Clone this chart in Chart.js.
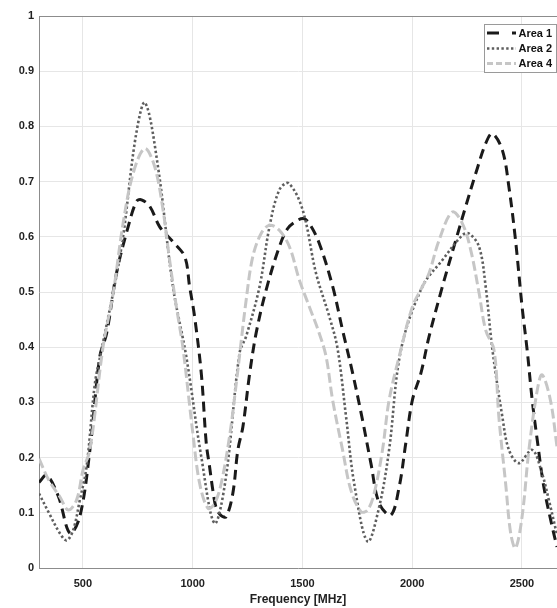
<!DOCTYPE html>
<html>
<head>
<meta charset="utf-8">
<script src="https://cdn.jsdelivr.net/npm/chart.js@4"></script>
<style>
  html, body { margin: 0; padding: 0; background: #fff; overflow: hidden; }
  #wrap { width: 557px; height: 608px; }
</style>
</head>
<body>
<div id="wrap"><canvas id="chart" width="557" height="608"></canvas></div>
<script>
// values
const area1Freq = [300, 335, 388, 441, 486, 532, 577, 608, 653, 706, 744, 767, 805, 850, 910, 964, 986, 1009, 1040, 1062, 1077, 1092, 1108, 1130, 1153, 1183, 1206, 1229, 1259, 1289, 1335, 1395, 1433, 1470, 1505, 1532, 1577, 1638, 1683, 1729, 1774, 1812, 1850, 1903, 1941, 1971, 2001, 2040, 2077, 2138, 2199, 2244, 2290, 2335, 2365, 2411, 2441, 2471, 2501, 2524, 2547, 2570, 2600, 2638, 2660]
const area1Val  = [0.155, 0.168, 0.13, 0.063, 0.093, 0.214, 0.383, 0.425, 0.534, 0.618, 0.664, 0.667, 0.655, 0.618, 0.591, 0.564, 0.51, 0.455, 0.35, 0.226, 0.184, 0.141, 0.108, 0.095, 0.093, 0.135, 0.214, 0.256, 0.35, 0.425, 0.504, 0.582, 0.615, 0.628, 0.633, 0.624, 0.588, 0.51, 0.431, 0.353, 0.268, 0.19, 0.117, 0.096, 0.147, 0.226, 0.304, 0.353, 0.419, 0.51, 0.594, 0.655, 0.715, 0.769, 0.787, 0.757, 0.69, 0.594, 0.473, 0.395, 0.304, 0.232, 0.147, 0.075, 0.038]

const area2Freq = [300, 345, 395, 426, 456, 486, 517, 555, 585, 676, 740, 783, 842, 910, 971, 1040, 1100, 1150, 1214, 1244, 1305, 1350, 1395, 1437, 1501, 1562, 1623, 1660, 1699, 1736, 1797, 1850, 1895, 1949, 2047, 2138, 2229, 2259, 2305, 2335, 2365, 2411, 2441, 2486, 2547, 2592, 2623, 2660]
const area2Val  = [0.135, 0.1, 0.063, 0.05, 0.069, 0.123, 0.184, 0.335, 0.395, 0.582, 0.78, 0.843, 0.727, 0.51, 0.383, 0.2, 0.081, 0.16, 0.39, 0.42, 0.51, 0.618, 0.685, 0.697, 0.649, 0.534, 0.455, 0.398, 0.274, 0.153, 0.048, 0.111, 0.214, 0.395, 0.51, 0.558, 0.603, 0.606, 0.582, 0.51, 0.398, 0.274, 0.214, 0.19, 0.214, 0.171, 0.123, 0.06]

const area4Freq = [300, 345, 395, 433, 471, 501, 532, 592, 638, 683, 729, 782, 827, 865, 895, 926, 956, 1001, 1032, 1070, 1100, 1130, 1168, 1199, 1244, 1274, 1312, 1350, 1395, 1441, 1486, 1532, 1577, 1608, 1638, 1683, 1721, 1767, 1797, 1827, 1865, 1895, 1941, 2001, 2047, 2077, 2123, 2183, 2229, 2267, 2305, 2335, 2373, 2395, 2426, 2449, 2471, 2501, 2532, 2570, 2592, 2630, 2660]
const area4Val  = [0.198, 0.159, 0.129, 0.105, 0.123, 0.178, 0.214, 0.401, 0.498, 0.624, 0.715, 0.76, 0.727, 0.649, 0.558, 0.473, 0.398, 0.244, 0.153, 0.108, 0.117, 0.153, 0.238, 0.335, 0.486, 0.564, 0.606, 0.621, 0.612, 0.582, 0.522, 0.473, 0.425, 0.383, 0.304, 0.214, 0.141, 0.102, 0.105, 0.135, 0.214, 0.304, 0.383, 0.473, 0.51, 0.534, 0.594, 0.645, 0.624, 0.576, 0.498, 0.431, 0.395, 0.274, 0.153, 0.063, 0.036, 0.093, 0.214, 0.322, 0.35, 0.304, 0.22]

const seriesNames = ["Area 1", "Area 2", "Area 4"]
const xTicks = [500, 1000, 1500, 2000, 2500]
const yTicks = [0, 0.1, 0.2, 0.3, 0.4, 0.5, 0.6, 0.7, 0.8, 0.9, 1]

const toPoints = (xs, ys) => xs.map((x, i) => ({x: x, y: ys[i]}))

const styles = [
  {color: "#1a1a1a", dash: [10, 6], width: 3},
  {color: "#5e5e5e", dash: [2.4, 2.4], width: 2.6},
  {color: "#c6c6c6", dash: [10, 4], width: 3}
]

const tickFont = {family: "'Liberation Sans', Arial, sans-serif", size: 11, weight: "bold"}

// top border + legend box (drawn by hand, like the matlab figure)
const framePlugin = {
  id: "frame",
  afterDatasetsDraw(chart) {
    const ctx = chart.ctx
    const a = chart.chartArea
    ctx.save()
    ctx.strokeStyle = "#8c8c8c"
    ctx.lineWidth = 1
    ctx.beginPath()
    ctx.moveTo(a.left, a.top + 0.5)
    ctx.lineTo(a.right, a.top + 0.5)
    ctx.stroke()

    // legend
    const bx = 484.5, by = 24.5, bw = 72, bh = 48
    ctx.fillStyle = "#fff"
    ctx.fillRect(bx, by, bw, bh)
    ctx.strokeStyle = "#9a9a9a"
    ctx.strokeRect(bx, by, bw, bh)

    const rows = [33, 48.5, 63.5]
    const legendDash = [[12, 13, 4, 100], [2.4, 2.4], [6, 3]]
    ctx.font = "bold 11px 'Liberation Sans', Arial, sans-serif"
    ctx.textBaseline = "middle"
    seriesNames.forEach((name, i) => {
      const s = styles[i]
      ctx.strokeStyle = s.color
      ctx.lineWidth = s.width
      ctx.setLineDash(legendDash[i])
      ctx.beginPath()
      ctx.moveTo(487, rows[i])
      ctx.lineTo(516, rows[i])
      ctx.stroke()
      ctx.setLineDash([])
      ctx.fillStyle = "#111"
      ctx.fillText(name, 518.5, rows[i] + 0.5)
    })
    ctx.restore()
  }
}

const datasets = [
  toPoints(area1Freq, area1Val),
  toPoints(area2Freq, area2Val),
  toPoints(area4Freq, area4Val)
].map((pts, i) => ({
  label: seriesNames[i],
  data: pts,
  borderColor: styles[i].color,
  borderWidth: styles[i].width,
  borderDash: styles[i].dash,
  pointRadius: 0,
  tension: 0.35,
  fill: false
}))

// draw later series first so Area 1 sits on top
datasets.reverse()

new Chart(document.getElementById("chart"), {
  type: "line",
  data: {datasets: datasets},
  options: {
    responsive: false,
    animation: false,
    layout: {padding: {top: 16, left: 0, right: 0, bottom: 0}},
    plugins: {legend: {display: false}, tooltip: {enabled: false}},
    scales: {
      x: {
        type: "linear",
        min: 300,
        max: 2660,
        afterBuildTicks: scale => { scale.ticks = xTicks.map(v => ({value: v})) },
        afterFit: scale => { scale.height = 40 },
        grid: {color: "#e6e6e6", drawTicks: false},
        border: {color: "#8c8c8c"},
        ticks: {font: tickFont, color: "#222", padding: 9, maxRotation: 0, callback: v => String(v)},
        title: {display: true, text: "Frequency [MHz]", font: {family: tickFont.family, size: 12, weight: "bold"}, color: "#222", padding: {top: 0, bottom: 1}}
      },
      y: {
        min: 0,
        max: 1,
        afterBuildTicks: scale => { scale.ticks = yTicks.map(v => ({value: v})) },
        afterFit: scale => { scale.width = 39 },
        grid: {color: "#e6e6e6", drawTicks: false},
        border: {color: "#8c8c8c"},
        ticks: {font: tickFont, color: "#222", padding: 5, callback: v => String(+v.toFixed(1))}
      }
    }
  },
  plugins: [framePlugin]
})
</script>
</body>
</html>
